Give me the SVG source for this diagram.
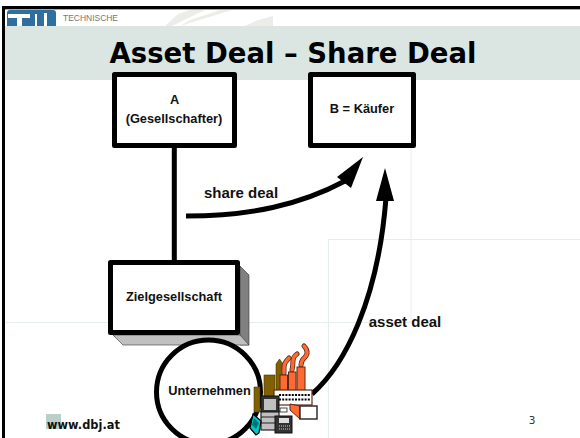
<svg xmlns="http://www.w3.org/2000/svg" width="580" height="438" viewBox="0 0 580 438">
<style>
.box{fill:#fff;stroke:#000;stroke-width:5;stroke-linejoin:round}
.lab{font-family:"Liberation Sans",Arial,sans-serif;font-weight:700;fill:#111;text-anchor:middle;font-size:12.8px}
.big{font-size:15px}
.faint{stroke:#e6eeeb;stroke-width:1;fill:none}
.conn{stroke:#000;fill:none;stroke-width:5}
.or{fill:#ff6a33;stroke:#5a2a1a;stroke-width:1}
.br{fill:#806000;stroke:#4a3800;stroke-width:.6}
.sm1{fill:none;stroke:#5a2a1a;stroke-width:5;stroke-linecap:round}
.sm2{fill:none;stroke:#ff6a33;stroke-width:3.400;stroke-linecap:round}
.dk{fill:#333;stroke:#111;stroke-width:1}
.gr{fill:#c0c0c0;stroke:#222;stroke-width:1.200}
</style>
<rect width="580" height="438" fill="#fff"/>
<g id="background">
<path d="M165 26L178 14L190 10H205L172 26ZM180 26L232 10H220L190 20ZM245 26L258 20L273 16V26Z" fill="#ececE8"/>
<rect x="5" y="26" width="575" height="54" fill="#dbe6e2"/>
<path class="faint" d="M5 322.500H411"/>
<path class="faint" d="M328.500 438V239.500H580"/>
<path class="faint" stroke-width="1.500" d="M411 80V322"/>
<rect x="2" y="6" width="578" height="3" fill="#000"/>
<rect x="5" y="9" width="575" height="1" fill="#aaa"/>
<rect x="2" y="6" width="3" height="432" fill="#000"/>
<path d="M7 26V13Q7 10 10 10H53Q56 10 56 13V26Z" fill="#2f6f9f"/>
<path d="M8 14H30V18H22V26H17V18H8ZM35 14H37V26H35ZM44 13H47V26H44Z" fill="#fff"/>
<text x="63" y="21" font-family="Liberation Sans,Arial,sans-serif" font-size="9.500" textLength="55" lengthAdjust="spacingAndGlyphs" fill="#777">TECHNISCHE</text>
<text x="293" y="63" font-family="DejaVu Sans,sans-serif" font-size="27.500" font-weight="700" fill="#000" text-anchor="middle">Asset Deal – Share Deal</text>
<rect x="46" y="414" width="15" height="15" fill="#b8d0c8"/>
<text x="47" y="429" font-family="DejaVu Sans,sans-serif" font-size="11.400" font-weight="700" fill="#111">www.dbj.at</text>
<text x="532" y="424" font-family="DejaVu Sans,sans-serif" font-size="10.500" fill="#333" text-anchor="middle">3</text>
</g>
<g id="connectors">
<path class="conn" d="M174.300 146V262"/>
<path class="conn" stroke-width="4" d="M188 334L191.500 343"/>
<path class="conn" d="M186 216C250 216 300 205 345 181"/>
<path d="M363 157L337 177L351 188Z" fill="#000"/>
<path class="conn" d="M312 394C345 365 378 300 386 198"/>
<path d="M385 168L376 201H394Z" fill="#000"/>
</g>
<g id="node-a">
<rect class="box" x="114.500" y="74.500" width="120" height="71"/>
<text class="lab" x="174.500" y="104">A</text>
<text class="lab" x="174" y="123">(Gesellschafter)</text>
</g>
<g id="node-b">
<rect class="box" x="310.500" y="74.500" width="103" height="71"/>
<text class="lab" x="362" y="113">B = Käufer</text>
</g>
<g id="node-ziel">
<path d="M240 266L249 275V345H240Z" fill="#808080" stroke="#333" stroke-width=".6"/>
<path d="M113 335L123 345H249L240 335Z" fill="#c0c0c0" stroke="#333" stroke-width=".6"/>
<rect class="box" x="110.500" y="262.500" width="127" height="70"/>
<text class="lab" x="174" y="301">Zielgesellschaft</text>
</g>
<g id="node-unternehmen">
<circle cx="208.500" cy="392" r="52" fill="#fff" stroke="#000" stroke-width="5"/>
<text class="lab" x="209.500" y="395">Unternehmen</text>
</g>
<g id="icons">
<path class="br" d="M254 387H260V412H254Z"/>
<path class="br" d="M264 375H275V398H264Z"/>
<path class="br" d="M276 377V364L279.500 359L283 364V392H276Z"/>
<path class="sm1" d="M284 373C284 366 283 364 289 358"/>
<path class="sm2" d="M284 373C284 366 283 364 289 358"/>
<path class="sm1" d="M292 370C294 362 291 358 297 354"/>
<path class="sm2" d="M292 370C294 362 291 358 297 354"/>
<path class="sm1" d="M301 365C301 357 308 358 307 352C307 349 305 347 304 346"/>
<path class="sm2" d="M301 365C301 357 308 358 307 352C307 349 305 347 304 346"/>
<rect class="or" x="280" y="375" width="7.500" height="18"/>
<rect class="or" x="288.500" y="372" width="7.500" height="21"/>
<rect class="or" x="297" y="367" width="8" height="26"/>
<rect x="274" y="390" width="38" height="15" fill="#fff" stroke="#5a2a1a" stroke-width="1.200"/>
<path d="M279 395H310M279 399.500H310" stroke="#000" stroke-width="2.200" stroke-dasharray="2 1.200" fill="none"/>
<path class="or" d="M290 404L300 406V419L290 410Z"/>
<rect x="300" y="406" width="17" height="13" fill="#fff" stroke="#222" stroke-width="1.400"/>
<rect class="gr" x="261" y="411" width="18" height="19"/>
<path d="M261 417H279M261 423H279" stroke="#222" stroke-width="1.200" fill="none"/>
<rect class="dk" x="261" y="396" width="18" height="16"/>
<rect x="264" y="399" width="12" height="11" fill="#c0c0c0"/>
<rect x="280" y="408" width="7" height="4" fill="#fff" stroke="#222" stroke-width=".8"/>
<rect class="dk" x="275" y="416" width="17" height="17"/>
<rect x="279" y="418" width="10" height="5" fill="#ddd"/>
<path d="M279 426H290M279 429H290" stroke="#ccc" stroke-width="1" stroke-dasharray="1 1" fill="none"/>
<path d="M253 414L261 421L259 433L256 435L250 428Z" fill="#00c8c8" stroke="#000" stroke-width="1.200"/>
<path d="M254 418L259 423L256 429L252 425Z" fill="#007878"/>
</g>
<text class="lab big" x="241" y="198">share deal</text>
<text class="lab big" x="405" y="327">asset deal</text>
</svg>
